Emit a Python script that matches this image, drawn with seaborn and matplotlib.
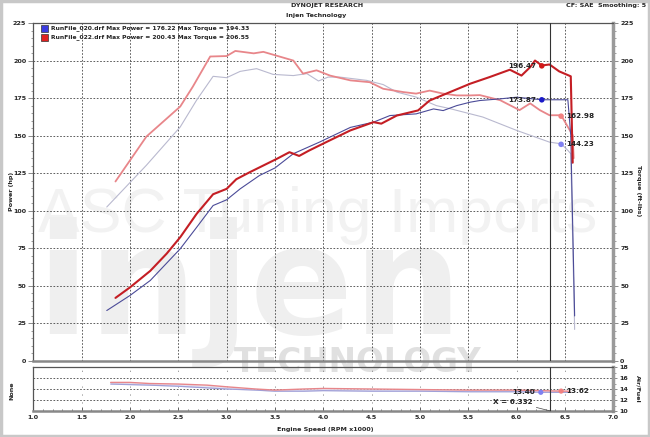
import numpy as np
import pandas as pd
import seaborn as sns
import matplotlib.pyplot as plt
from matplotlib.patches import Rectangle
from matplotlib.ticker import MultipleLocator

# RunFile_020 (blue) power / torque, rpm x1000
rpm_hp_020 = [1.76, 2.0, 2.21, 2.52, 2.69, 2.86, 3.0, 3.14, 3.34, 3.5, 3.69, 3.96, 4.28, 4.52,
              4.69, 4.96, 5.14, 5.24, 5.38, 5.52, 5.62, 5.83, 6.0, 6.26, 6.53, 6.56, 6.6]
hp_020 = [33.6, 43.6, 53.6, 74.7, 89, 103.5, 107.3, 114.6, 123.5, 128.5, 138, 145.7, 155.5, 159,
          163.4, 164.5, 167.8, 166.7, 170, 172.3, 173.4, 174.5, 175.6, 173.9, 173.9, 150, 30]
rpm_tq_020 = [1.76, 2.17, 2.52, 2.69, 2.86, 3.0, 3.14, 3.31, 3.48, 3.69, 3.83, 3.95, 4.05, 4.17,
              4.45, 4.62, 4.76, 4.96, 5.17, 5.31, 5.65, 6.0, 6.34, 6.46, 6.53, 6.56, 6.6]
tq_020 = [102.5, 130.3, 155.8, 173.7, 189.5, 188.6, 192.8, 194.6, 190.8, 190, 191.3, 186.4, 189,
          189, 186.8, 184, 179, 175.7, 170, 168, 162.4, 153.5, 145.7, 144.6, 140.2, 138, 21]

# RunFile_022 (red) power / torque
rpm_hp_022 = [1.85, 2.0, 2.21, 2.38, 2.52, 2.69, 2.86, 3.0, 3.1, 3.24, 3.52, 3.65, 3.75, 3.85,
              4.03, 4.28, 4.52, 4.6, 4.76, 4.98, 5.1, 5.31, 5.52, 5.72, 5.93, 6.05, 6.14, 6.19,
              6.26, 6.34, 6.44, 6.56, 6.58]
hp_022 = [42, 49, 60, 71.5, 82.4, 98, 111, 114.6, 121, 125.7, 134.6, 139, 136.5, 140,
          145.7, 153.5, 159, 158, 163.4, 166.8, 173.4, 179, 184.6, 189, 193.9, 190, 195.6, 200,
          196.7, 197.4, 192.8, 189.5, 132]
rpm_tq_022 = [1.85, 2.17, 2.52, 2.65, 2.83, 3.0, 3.09, 3.28, 3.38, 3.69, 3.79, 3.93, 4.07, 4.28,
              4.48, 4.62, 4.83, 4.96, 5.1, 5.24, 5.38, 5.52, 5.62, 5.83, 6.03, 6.14, 6.24, 6.34,
              6.46, 6.58, 6.59]
tq_022 = [119.5, 149.4, 169.4, 182.6, 202.7, 203, 206.4, 204.8, 205.8, 200, 191.3, 193.5, 190,
          186.8, 185.6, 181.2, 179, 178, 180, 178, 176.8, 176.8, 177, 173.6, 167, 171.5, 167,
          163.6, 163.6, 150.3, 135]

# Air/Fuel
rpm_afr = [1.8, 2.0, 2.2, 2.5, 2.8, 3.0, 3.3, 3.5, 3.8, 4.0, 4.5, 5.0, 5.5, 6.0, 6.25, 6.46, 6.55]
afr_020 = [14.9, 14.8, 14.7, 14.5, 14.2, 14.0, 13.8, 13.6, 13.6, 13.7, 13.6, 13.6, 13.5, 13.5,
           13.4, 13.4, 13.4]
afr_022 = [15.2, 15.2, 15.0, 14.9, 14.7, 14.4, 14.0, 13.8, 14.0, 14.1, 14.0, 13.9, 13.8, 13.8,
           13.7, 13.62, 13.6]

legend_labels = ['RunFile_020.drf Max Power = 176.22 Max Torque = 194.33',
                 'RunFile_022.drf Max Power = 200.43 Max Torque = 206.55']
cursor_x = 6.35

sns.set_style('white')
plt.rcParams['font.family'] = ['DejaVu Sans']

fig = plt.figure(figsize=(6.5, 4.37), dpi=100)
W, H = 650, 437
ax = fig.add_axes([33.3 / W, 1 - 361 / H, 580 / W, 338 / H])
ax2 = fig.add_axes([33.3 / W, 1 - 411 / H, 580 / W, 44 / H])
ax.set_facecolor('none')
ax2.set_facecolor('none')

fig.add_artist(Rectangle((0.002, 0.003), 0.996, 0.994, transform=fig.transFigure,
                         fill=False, edgecolor='#c8c8c8', lw=2.5))

# watermark behind the axes
fig.text(38 / W, 1 - 232 / H, 'ASC Tuning Imports', fontsize=45, family='Liberation Sans',
         color='#f2f2f2', ha='left', va='baseline', zorder=-2)
fig.text(36 / W, 1 - 334 / H, 'injen', fontsize=110, weight='bold',
         color='#efefef', ha='left', va='baseline', zorder=-2)
fig.text(234 / W, 1 - 372 / H, 'TECHNOLOGY', fontsize=23.5, weight='bold',
         color='#e0e0e0', ha='left', va='baseline', zorder=-1)

tick_kw = dict(fontsize=4.6, fontweight='bold')
grid_ls = (0, (2, 2))

sns.lineplot(x=rpm_tq_020, y=tq_020, ax=ax, color='#b9b9cf', lw=0.8, sort=False, estimator=None)
sns.lineplot(x=rpm_tq_022, y=tq_022, ax=ax, color='#e8868a', lw=1.3, sort=False, estimator=None)
sns.lineplot(x=rpm_hp_020, y=hp_020, ax=ax, color='#4b4b98', lw=0.8, sort=False, estimator=None)
sns.lineplot(x=rpm_hp_022, y=hp_022, ax=ax, color='#c41e24', lw=1.5, sort=False, estimator=None)

# cursor markers
sns.scatterplot(x=[6.26], y=[196.47], ax=ax, color='#d01818', s=16, edgecolor='none', zorder=5)
sns.scatterplot(x=[6.26], y=[173.87], ax=ax, color='#1a1ac8', s=16, edgecolor='none', zorder=5)
sns.scatterplot(x=[6.46], y=[162.98], ax=ax, color='#f08080', s=16, edgecolor='none', zorder=5)
sns.scatterplot(x=[6.46], y=[144.23], ax=ax, color='#8080f0', s=16, edgecolor='none', zorder=5)
lab = dict(fontsize=5.2, fontweight='bold', color='#222222', va='center', textcoords='offset points')
ax.annotate('196.47', xy=(6.26, 196.47), xytext=(-4, 0), ha='right', **lab)
ax.annotate('173.87', xy=(6.26, 173.87), xytext=(-4, 0), ha='right', **lab)
ax.annotate('162.98', xy=(6.46, 162.98), xytext=(4, 0), ha='left', **lab)
ax.annotate('144.23', xy=(6.46, 144.23), xytext=(4, 0), ha='left', **lab)
ax.axvline(cursor_x, color='#333333', lw=0.8, zorder=4)

ax.set_xlim(1.0, 7.0)
ax.set_ylim(0, 225)
ax.xaxis.set_major_locator(MultipleLocator(0.5))
ax.yaxis.set_major_locator(MultipleLocator(25))
ax.yaxis.set_minor_locator(MultipleLocator(5))
ax.grid(True, which='major', ls=grid_ls, color='#444444', lw=0.6)
ax.tick_params(axis='x', bottom=False, labelbottom=False)
ax.tick_params(axis='y', which='both', left=True, right=True, labelleft=True, labelright=True,
               direction='out', color='#777777', pad=1.5)
ax.tick_params(axis='y', which='major', length=3.5, width=0.6)
ax.tick_params(axis='y', which='minor', length=1.8, width=0.5)
for t in ax.get_yticklabels():
    t.set_fontsize(4.6)
    t.set_fontweight('bold')
for side in ['left', 'top']:
    ax.spines[side].set_color('#555555')
    ax.spines[side].set_linewidth(0.9)
ax.spines['bottom'].set_color('#888888')
ax.spines['bottom'].set_linewidth(1.8)
ax.spines['right'].set_color('#9a9a9a')
ax.spines['right'].set_linewidth(2.5)

# air/fuel panel
ax2.fill_between(rpm_afr, afr_020, afr_022, color='#e6e4f2', lw=0, zorder=1)
sns.lineplot(x=rpm_afr, y=afr_020, ax=ax2, color='#a0a0d8', lw=0.9, sort=False, estimator=None)
sns.lineplot(x=rpm_afr, y=afr_022, ax=ax2, color='#e8868a', lw=1.0, sort=False, estimator=None)
sns.scatterplot(x=[6.25], y=[13.40], ax=ax2, color='#8080f0', s=14, edgecolor='none', zorder=5)
sns.scatterplot(x=[6.46], y=[13.62], ax=ax2, color='#f08080', s=14, edgecolor='none', zorder=5)
ax2.annotate('13.40', xy=(6.25, 13.40), xytext=(-4, 0), ha='right', **lab)
ax2.annotate('13.62', xy=(6.46, 13.62), xytext=(4, 0), ha='left', **lab)
ax2.axvline(cursor_x, color='#333333', lw=0.8, zorder=4)
ax2.annotate('X = 6.332', xy=(cursor_x, 10), xytext=(6.17, 11.7), ha='right', va='center',
             fontsize=5.2, fontweight='bold', color='#222222',
             arrowprops=dict(arrowstyle='-', color='#444444', lw=0.5, shrinkA=0, shrinkB=0))

ax2.set_xlim(1.0, 7.0)
ax2.set_ylim(10, 18)
ax2.xaxis.set_major_locator(MultipleLocator(0.5))
ax2.xaxis.set_minor_locator(MultipleLocator(0.1))
ax2.yaxis.set_major_locator(MultipleLocator(2))
ax2.yaxis.set_minor_locator(MultipleLocator(1))
ax2.grid(True, which='major', axis='y', ls=grid_ls, color='#444444', lw=0.6)
ax2.grid(True, which='major', axis='x', ls=(0, (1.5, 8)), color='#888888', lw=0.6)
ax2.tick_params(axis='x', which='both', bottom=True, direction='in', color='#444444', pad=3)
ax2.tick_params(axis='x', which='major', length=3, width=0.6)
ax2.tick_params(axis='x', which='minor', length=1.8, width=0.5)
ax2.tick_params(axis='y', which='both', left=False, right=True, labelleft=False, labelright=True,
                direction='out', color='#777777', pad=1.5)
ax2.tick_params(axis='y', which='major', length=3, width=0.6)
ax2.tick_params(axis='y', which='minor', length=1.8, width=0.5)
for t in ax2.get_yticklabels():
    t.set_fontsize(4.6)
    t.set_fontweight('bold')
ax2.set_xticks(np.arange(1.0, 7.01, 0.5))
ax2.set_xticklabels([f'{v:.1f}' for v in np.arange(1.0, 7.01, 0.5)], **tick_kw)
for side in ['left', 'top']:
    ax2.spines[side].set_color('#555555')
    ax2.spines[side].set_linewidth(0.9)
ax2.spines['bottom'].set_color('#888888')
ax2.spines['bottom'].set_linewidth(1.8)
ax2.spines['right'].set_color('#9a9a9a')
ax2.spines['right'].set_linewidth(2.5)

# legend
for i, (lbl, col) in enumerate(zip(legend_labels, ['#3a3ae0', '#e02020'])):
    y = 1 - (28 + 9 * i) / H
    fig.add_artist(Rectangle((41 / W, y - 3.5 / H), 7 / W, 7 / H, transform=fig.transFigure,
                             facecolor=col, edgecolor='#333333', lw=0.5))
    fig.text(51 / W, y, lbl, ha='left', va='center', fontsize=4.3, fontweight='bold',
             color='#222222')

# titles and axis labels
fig.text(327 / W, 1 - 5 / H, 'DYNOJET RESEARCH', ha='center', va='center', **tick_kw)
fig.text(316 / W, 1 - 15 / H, 'Injen Technology', ha='center', va='center', **tick_kw)
fig.text(646 / W, 1 - 5 / H, 'CF: SAE  Smoothing: 5', ha='right', va='center', **tick_kw)
fig.text(12 / W, 1 - 191 / H, 'Power (hp)', rotation=90, ha='center', va='center', **tick_kw)
fig.text(638 / W, 1 - 191 / H, 'Torque (ft-lbs)', rotation=-90, ha='center', va='center', **tick_kw)
fig.text(12 / W, 1 - 391 / H, 'None', rotation=90, ha='center', va='center', **tick_kw)
fig.text(638 / W, 1 - 389 / H, 'Air/Fuel', rotation=-90, ha='center', va='center', **tick_kw)
fig.text(325 / W, 1 - 430 / H, 'Engine Speed (RPM x1000)', ha='center', va='center', **tick_kw)

fig.savefig('out.png', dpi=100)
